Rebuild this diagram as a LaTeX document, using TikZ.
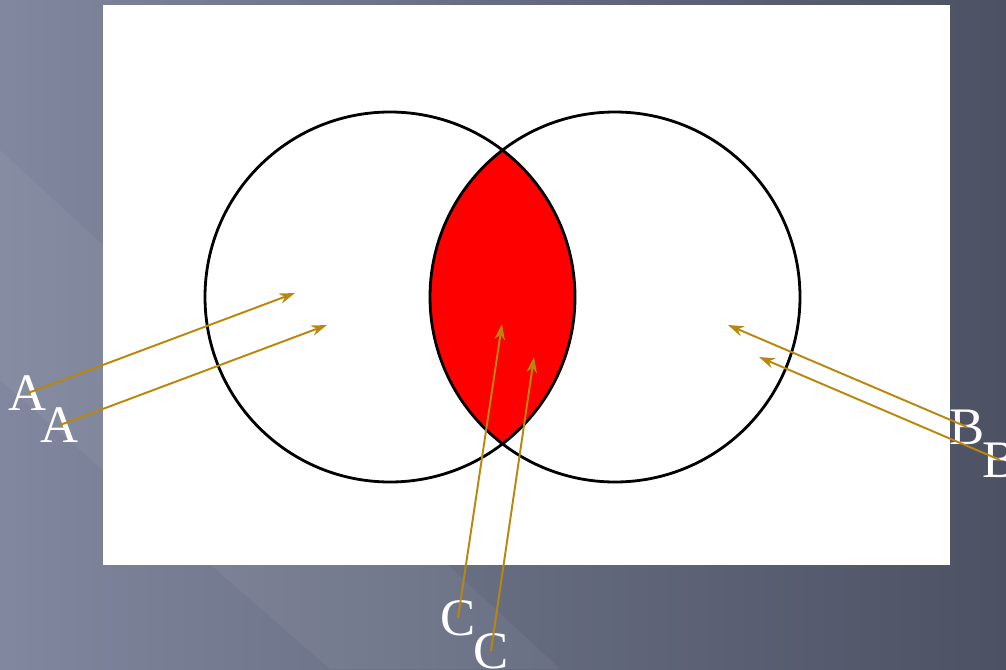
\documentclass[tikz,border=0pt]{standalone}
\usepackage{fontspec}
\setmainfont{Liberation Serif}
\usepackage{tikz}
\usetikzlibrary{arrows.meta,positioning,calc}
\usepackage{xcolor}
\definecolor{slatelight}{RGB}{128,135,158}
\definecolor{slatedark}{RGB}{76,81,99}
\definecolor{pointergold}{RGB}{186,135,12}
\definecolor{lensred}{RGB}{255,0,0}

\begin{document}
\begin{tikzpicture}[x=0.02cm,y=-0.02cm,
    letter/.style={text=white,inner sep=0pt,font=\fontsize{30}{32}\selectfont},
    pointer/.style={draw=pointergold,line width=1.1pt,-{Stealth[length=9pt,width=6pt]}},
    ring/.style={draw=black,line width=1.6pt}]
    \useasboundingbox (0,0) rectangle (1006,669);

    % Background
    \shade[left color=slatelight,right color=slatedark] (0,0) rectangle (1006,669);
    \fill[white,opacity=0.05] (0,150) -- (560,669) -- (330,669) -- (0,380) -- cycle;
    \fill[white] (103,5) rectangle (950,565);

    % Sets
    \begin{scope}
      \clip (390,297) circle (185);
      \fill[lensred] (615,297) circle (185);
    \end{scope}
    \draw[ring] (390,297) circle (185);
    \draw[ring] (615,297) circle (185);

    % Labels
    \node[letter] (a1) at (28,393) {A};
    \node[letter] (a2) at (60,425) {A};
    \node[letter] (b1) at (967,427) {B};
    \node[letter] (b2) at (1000,460) {B};
    \node[letter] (c1) at (458,618) {C};
    \node[letter] (c2) at (491,651) {C};

    \coordinate (ha1) at (295,293);
    \coordinate (ha2) at (327,325);
    \coordinate (hb1) at (728,325);
    \coordinate (hb2) at (759,357);
    \coordinate (hc1) at (502,324);
    \coordinate (hc2) at (534,357);

    % Pointers
    \foreach \s in {a1,a2,b1,b2,c1,c2}
      \draw[pointer] (\s.center) -- (h\s);
\end{tikzpicture}
\end{document}
